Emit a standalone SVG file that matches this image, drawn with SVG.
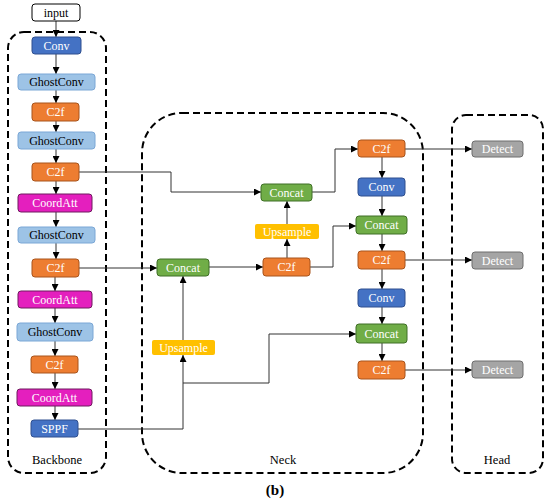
<svg xmlns="http://www.w3.org/2000/svg" width="550" height="504" viewBox="0 0 550 504">
<style>
text{font-family:"Liberation Serif","Times New Roman",serif;font-size:12px;text-anchor:middle;}
.n rect{stroke-width:1;}
.w{fill:#fff;}
.k{fill:#000;}
.input{fill:#fff;stroke:#000;}
.conv{fill:#4472C4;stroke:#2F4F8F;}
.ghost{fill:#9DC3E6;stroke:#7BA7D6;}
.c2f{fill:#ED7D31;stroke:#A8541C;}
.coord{fill:#E41FBE;stroke:#6E1B5E;}
.concat{fill:#70AD47;stroke:#3F6F26;}
.ups{fill:#FFC000;stroke:none;}
.det{fill:#A5A5A5;stroke:#6E6E6E;}
.grp{fill:none;stroke:#000;stroke-width:2;stroke-dasharray:7 4;}
.e{fill:none;stroke:#333;stroke-width:1;}
.lbl{font-size:12.5px;}
</style>
<defs>
<marker id="a" viewBox="0 0 10 10" refX="10" refY="5" markerWidth="7" markerHeight="7" orient="auto" markerUnits="userSpaceOnUse"><path d="M0,0 L10,5 L0,10 z" fill="#000"/></marker>
</defs>

<g id="groups">
<rect class="grp" x="8" y="32" width="98" height="441" rx="16"/>
<rect class="grp" x="142" y="113" width="281" height="360" rx="40"/>
<rect class="grp" x="452" y="115" width="91" height="358" rx="14"/>
<text class="lbl" x="57" y="464">Backbone</text>
<text class="lbl" x="283" y="464">Neck</text>
<text class="lbl" x="497" y="464">Head</text>
<text x="275" y="495" style="font-size:15px;font-weight:bold">(b)</text>
</g>

<g id="connectors" marker-end="url(#a)">
<path class="e" d="M56,21 V37"/>
<path class="e" d="M56,54 V74"/>
<path class="e" d="M56,90 V103"/>
<path class="e" d="M56,121 V132"/>
<path class="e" d="M56,149 V163"/>
<path class="e" d="M56,181 V194"/>
<path class="e" d="M56,212 V227"/>
<path class="e" d="M56,243 V259"/>
<path class="e" d="M55,277 V291"/>
<path class="e" d="M55,308 V323"/>
<path class="e" d="M55,341 V356"/>
<path class="e" d="M55,373 V389"/>
<path class="e" d="M55,406 V420"/>
<path class="e" d="M79,172 H171 V192 H261"/>
<path class="e" d="M79,268 H157"/>
<path class="e" d="M209,267 H263"/>
<path class="e" d="M287,258 V239"/>
<path class="e" d="M287,224 V201"/>
<path class="e" d="M312,192 H335 V149 H358"/>
<path class="e" d="M310,267 H333 V226 H356"/>
<path class="e" d="M78,429 H183 V355"/>
<path class="e" d="M183,383 H269 V334 H356"/>
<path class="e" d="M183,340 V276"/>
<path class="e" d="M382,157 V178"/>
<path class="e" d="M382,196 V216"/>
<path class="e" d="M382,234 V251"/>
<path class="e" d="M382,269 V289"/>
<path class="e" d="M382,307 V324"/>
<path class="e" d="M382,343 V361"/>
<path class="e" d="M405,149 H472"/>
<path class="e" d="M405,260 H472"/>
<path class="e" d="M405,370 H472"/>
</g>

<g id="input" class="n"><rect class="input" x="32" y="4" width="48" height="17" rx="3"/><text class="k" x="56" y="16.5">input</text></g>
<g id="b_conv" class="n"><rect class="conv" x="32" y="37" width="49" height="17" rx="3"/><text class="w" x="56.5" y="49.5">Conv</text></g>
<g id="b_ghost1" class="n"><rect class="ghost" x="18" y="74" width="77" height="16" rx="3"/><text class="k" x="56.5" y="86">GhostConv</text></g>
<g id="b_c2f1" class="n"><rect class="c2f" x="32" y="103" width="47" height="18" rx="3"/><text class="w" x="55.5" y="116">C2f</text></g>
<g id="b_ghost2" class="n"><rect class="ghost" x="18" y="132" width="77" height="17" rx="3"/><text class="k" x="56.5" y="144.5">GhostConv</text></g>
<g id="b_c2f2" class="n"><rect class="c2f" x="32" y="163" width="47" height="18" rx="3"/><text class="w" x="55.5" y="176">C2f</text></g>
<g id="b_coord1" class="n"><rect class="coord" x="18" y="194" width="74" height="18" rx="3"/><text class="w" x="55" y="207">CoordAtt</text></g>
<g id="b_ghost3" class="n"><rect class="ghost" x="18" y="227" width="77" height="16" rx="3"/><text class="k" x="56.5" y="239">GhostConv</text></g>
<g id="b_c2f3" class="n"><rect class="c2f" x="32" y="259" width="47" height="18" rx="3"/><text class="w" x="55.5" y="272">C2f</text></g>
<g id="b_coord2" class="n"><rect class="coord" x="18" y="291" width="74" height="17" rx="3"/><text class="w" x="55" y="303.5">CoordAtt</text></g>
<g id="b_ghost4" class="n"><rect class="ghost" x="17" y="323" width="76" height="18" rx="3"/><text class="k" x="55" y="336">GhostConv</text></g>
<g id="b_c2f4" class="n"><rect class="c2f" x="31" y="356" width="47" height="17" rx="3"/><text class="w" x="54.5" y="368.5">C2f</text></g>
<g id="b_coord3" class="n"><rect class="coord" x="17" y="389" width="75" height="17" rx="3"/><text class="w" x="54.5" y="401.5">CoordAtt</text></g>
<g id="b_sppf" class="n"><rect class="conv" x="31" y="420" width="47" height="17" rx="3"/><text class="w" x="54.5" y="432.5">SPPF</text></g>

<g id="n_concat1" class="n"><rect class="concat" x="261" y="184" width="51" height="17" rx="3"/><text class="w" x="286.5" y="196.5">Concat</text></g>
<g id="n_ups1" class="n"><rect class="ups" x="255" y="224" width="64" height="15" rx="2"/><text class="w" x="287" y="235.5">Upsample</text></g>
<g id="n_c2f1" class="n"><rect class="c2f" x="263" y="258" width="47" height="18" rx="3"/><text class="w" x="286.5" y="271">C2f</text></g>
<g id="n_concat0" class="n"><rect class="concat" x="157" y="259" width="52" height="17" rx="3"/><text class="w" x="183" y="271.5">Concat</text></g>
<g id="n_ups0" class="n"><rect class="ups" x="152" y="340" width="63" height="15" rx="2"/><text class="w" x="183.5" y="351.5">Upsample</text></g>
<g id="n_c2f2" class="n"><rect class="c2f" x="358" y="140" width="47" height="17" rx="3"/><text class="w" x="381.5" y="152.5">C2f</text></g>
<g id="n_conv1" class="n"><rect class="conv" x="358" y="178" width="47" height="18" rx="3"/><text class="w" x="381.5" y="191">Conv</text></g>
<g id="n_concat2" class="n"><rect class="concat" x="356" y="216" width="51" height="18" rx="3"/><text class="w" x="381.5" y="229">Concat</text></g>
<g id="n_c2f3" class="n"><rect class="c2f" x="358" y="251" width="47" height="18" rx="3"/><text class="w" x="381.5" y="264">C2f</text></g>
<g id="n_conv2" class="n"><rect class="conv" x="358" y="289" width="47" height="18" rx="3"/><text class="w" x="381.5" y="302">Conv</text></g>
<g id="n_concat3" class="n"><rect class="concat" x="356" y="324" width="51" height="19" rx="3"/><text class="w" x="381.5" y="337.5">Concat</text></g>
<g id="n_c2f4" class="n"><rect class="c2f" x="358" y="361" width="47" height="18" rx="3"/><text class="w" x="381.5" y="374">C2f</text></g>

<g id="h_det1" class="n"><rect class="det" x="472" y="141" width="51" height="16" rx="3"/><text class="w" x="497.5" y="153">Detect</text></g>
<g id="h_det2" class="n"><rect class="det" x="472" y="252" width="51" height="17" rx="3"/><text class="w" x="497.5" y="264.5">Detect</text></g>
<g id="h_det3" class="n"><rect class="det" x="472" y="361" width="51" height="17" rx="3"/><text class="w" x="497.5" y="373.5">Detect</text></g>
</svg>
